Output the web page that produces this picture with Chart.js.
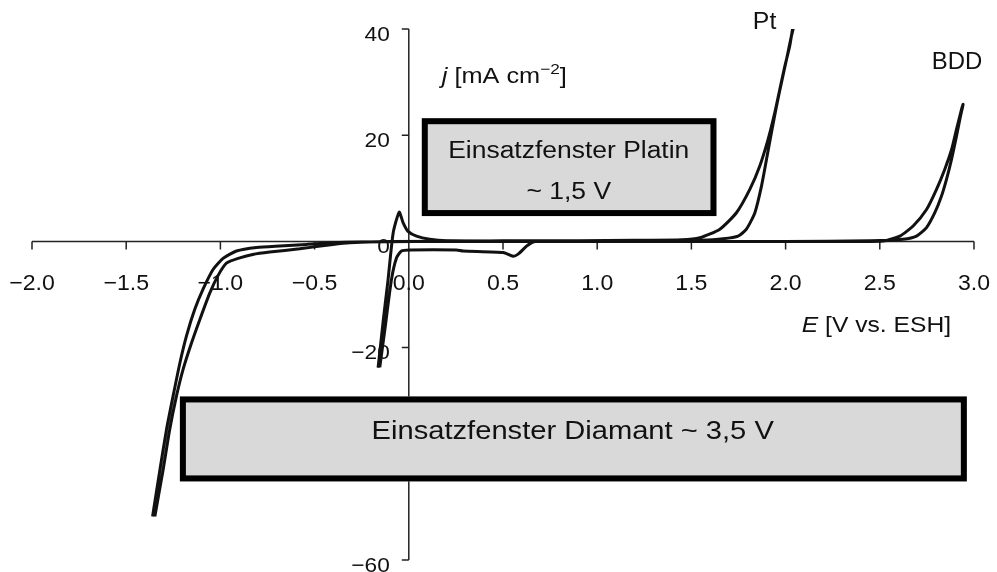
<!DOCTYPE html>
<html>
<head>
<meta charset="utf-8">
<script src="https://cdn.jsdelivr.net/npm/chart.js@4.4.1/dist/chart.umd.min.js"></script>
<style>
html,body{margin:0;padding:0;background:#fff}
#cv{display:block}
</style>
</head>
<body>
<canvas id="cv" width="997" height="572"></canvas>
<script>
// Pt loop, E [V vs. ESH] and j [mA cm-2]
var ptE = [-0.163, -0.135, -0.110, -0.083, -0.051, -0.030, -0.004, 0.041, 0.111, 0.200, 0.5, 1.0, 1.4, 1.55,
    1.668, 1.748, 1.792, 1.837, 1.872, 1.899, 1.925, 1.952, 1.978, 2.005, 2.031, 2.044,
    2.040, 2.022, 1.996, 1.969, 1.943, 1.907, 1.863, 1.810, 1.739, 1.651, 1.545, 1.45, 1.2, 0.9,
    0.731, 0.660, 0.625, 0.580, 0.554, 0.501, 0.288, 0.253, 0.005, -0.039, -0.065, -0.092, -0.127, -0.154]
var ptJ = [-23.8, -14.7, -7.2, 1.6, 5.5, 3.5, 1.9, 1.0, 0.4, 0.1, 0.1, 0.1, 0.1, 0.2,
    0.5, 1.0, 2.3, 5.4, 10.4, 15.5, 20.5, 25.5, 29.9, 34.3, 38.7, 40.6,
    40.6, 36.8, 33.0, 28.6, 24.3, 19.2, 14.2, 9.8, 5.4, 2.3, 0.7, 0.3, 0.2, 0.1,
    0.1, -0.1, -0.9, -2.4, -2.8, -2.1, -1.8, -1.6, -1.6, -1.8, -3.1, -7.2, -16.6, -23.7]

// BDD loop
var bddE = [-1.360, -1.321, -1.286, -1.251, -1.215, -1.180, -1.136, -1.092, -1.039, -0.986, -0.915, -0.808, -0.685, -0.543, -0.419,
    -0.25, 0.3, 1.2, 2.0, 2.45,
    2.624, 2.695, 2.748, 2.792, 2.827, 2.854, 2.881, 2.907, 2.925, 2.942,
    2.934, 2.907, 2.881, 2.845, 2.801, 2.748, 2.677, 2.606, 2.518,
    2.3, 1.5, 0.6, -0.1,
    -0.313, -0.403, -0.579, -0.738, -0.828, -0.897, -0.968, -1.012, -1.056, -1.109, -1.153, -1.198, -1.233, -1.269, -1.304, -1.348]
var bddJ = [-51.8, -43.0, -35.4, -29.1, -22.9, -17.8, -12.8, -9.0, -5.3, -3.2, -1.8, -1.13, -0.85, -0.57, -0.28,
    -0.1, 0, 0, 0, 0.1,
    0.4, 1.0, 2.6, 5.4, 8.5, 11.7, 15.5, 19.8, 23.0, 25.8,
    24.9, 21.1, 17.3, 13.6, 9.8, 6.0, 2.9, 1.0, 0.06,
    0, 0, 0, 0,
    -0.25, -0.57, -1.4, -2.0, -2.45, -3.1, -4.1, -6.4, -9.7, -14.7, -19.1, -24.1, -29.1, -35.4, -43.0, -51.8]

// axis ticks
var xTicks = [-2.0, -1.5, -1.0, -0.5, 0.0, 0.5, 1.0, 1.5, 2.0, 2.5, 3.0]
var yTicks = [-60, -40, -20, 0, 20, 40]

var F = '"Liberation Sans", Arial, sans-serif'

function toPoints(es, js){
    return es.map(function(e, i){ return {x: e, y: js[i]} })
}

function minusSign(s){
    return s.replace('-', '\u2212')
}

// text in the scan is a bit wider than Arial
function drawText(ctx, str, x, y, font, align, hs){
    ctx.save()
    ctx.translate(x, y)
    ctx.scale(hs, 1)
    ctx.font = font
    ctx.textAlign = align
    ctx.textBaseline = 'alphabetic'
    ctx.fillStyle = '#111'
    ctx.fillText(str, 0, 0)
    var w = ctx.measureText(str).width * hs
    ctx.restore()
    return w
}

function drawBox(ctx, xs, ys, b){
    var l = xs.getPixelForValue(b.x0), r = xs.getPixelForValue(b.x1)
    var t = ys.getPixelForValue(b.y0), btm = ys.getPixelForValue(b.y1)
    ctx.save()
    ctx.fillStyle = '#d9d9d9'
    ctx.fillRect(l, t, r - l, btm - t)
    ctx.lineWidth = 6
    ctx.strokeStyle = '#000'
    ctx.strokeRect(l + 3, t + 3, r - l - 6, btm - t - 6)
    ctx.restore()
}

// axes crossing at the origin
var crossAxes = {
    id: 'crossAxes',
    beforeDatasetsDraw: function(chart){
        var ctx = chart.ctx, xs = chart.scales.x, ys = chart.scales.y, area = chart.chartArea
        var x0 = xs.getPixelForValue(0), y0 = ys.getPixelForValue(0)
        ctx.save()
        ctx.strokeStyle = '#222'
        ctx.lineWidth = 1.5
        ctx.beginPath()
        ctx.moveTo(area.left, y0); ctx.lineTo(area.right, y0)
        ctx.moveTo(x0, area.top); ctx.lineTo(x0, area.bottom)
        xTicks.forEach(function(v){
            var px = xs.getPixelForValue(v)
            ctx.moveTo(px, y0); ctx.lineTo(px, y0 + 8)
        })
        yTicks.forEach(function(v){
            var py = ys.getPixelForValue(v)
            ctx.moveTo(x0, py); ctx.lineTo(x0 - 7, py)
        })
        ctx.stroke()
        ctx.restore()

        xTicks.forEach(function(v){
            drawText(ctx, minusSign(v.toFixed(1)), xs.getPixelForValue(v), y0 + 49, '22px ' + F, 'center', 1.05)
        })
        yTicks.forEach(function(v){
            drawText(ctx, minusSign(String(v)), x0 - 19, ys.getPixelForValue(v) + 11.5, '21px ' + F, 'right', 1.08)
        })
    }
}

var annotations = {
    id: 'annotations',
    afterDraw: function(chart){
        var ctx = chart.ctx
        var xs = chart.scales.x, ys = chart.scales.y

        drawBox(ctx, xs, ys, {x0: 0.069, x1: 1.633, y0: 23.2, y1: 4.77})
        drawText(ctx, 'Einsatzfenster Platin', xs.getPixelForValue(0.849), ys.getPixelForValue(15.8), '23px ' + F, 'center', 1.15)
        drawText(ctx, '~ 1,5 V', xs.getPixelForValue(0.849), ys.getPixelForValue(7.9), '23px ' + F, 'center', 1.15)

        drawBox(ctx, xs, ys, {x0: -1.215, x1: 2.962, y0: -29.2, y1: -45.2})
        drawText(ctx, 'Einsatzfenster Diamant ~ 3,5 V', xs.getPixelForValue(0.870), ys.getPixelForValue(-37.3), '26px ' + F, 'center', 1.12)

        drawText(ctx, 'Pt', xs.getPixelForValue(1.826), ys.getPixelForValue(40), '23px ' + F, 'left', 1.08)
        drawText(ctx, 'BDD', xs.getPixelForValue(2.776), ys.getPixelForValue(32.4), '23px ' + F, 'left', 1.04)

        // j [mA cm-2]
        var x = xs.getPixelForValue(0.175), y = ys.getPixelForValue(29.8)
        x += drawText(ctx, 'j', x, y, 'italic 22px ' + F, 'left', 1.15)
        x += drawText(ctx, ' [mA cm', x, y, '22px ' + F, 'left', 1.15)
        x += drawText(ctx, '\u22122', x, y - 9, '15px ' + F, 'left', 1.15)
        drawText(ctx, ']', x, y, '22px ' + F, 'left', 1.15)

        // E [V vs. ESH]
        x = xs.getPixelForValue(2.086); y = ys.getPixelForValue(-17.0)
        x += drawText(ctx, 'E', x, y, 'italic 22px ' + F, 'left', 1.12)
        drawText(ctx, ' [V vs. ESH]', x, y, '22px ' + F, 'left', 1.12)
    }
}

var lineStyle = {showLine: true, pointRadius: 0, borderColor: '#111', borderWidth: 3, tension: 0.2, fill: false}

new Chart(document.getElementById('cv'), {
    type: 'scatter',
    data: {
        datasets: [
            Object.assign({label: 'Pt', data: toPoints(ptE, ptJ)}, lineStyle),
            Object.assign({label: 'BDD', data: toPoints(bddE, bddJ)}, lineStyle)
        ]
    },
    options: {
        responsive: false,
        animation: false,
        devicePixelRatio: 1,
        layout: {padding: {left: 32, right: 23, top: 29, bottom: 12}},
        plugins: {legend: {display: false}, tooltip: {enabled: false}},
        scales: {
            x: {type: 'linear', min: xTicks[0], max: xTicks[xTicks.length - 1], display: false},
            y: {type: 'linear', min: yTicks[0], max: yTicks[yTicks.length - 1], display: false}
        }
    },
    plugins: [crossAxes, annotations]
})
</script>
</body>
</html>
